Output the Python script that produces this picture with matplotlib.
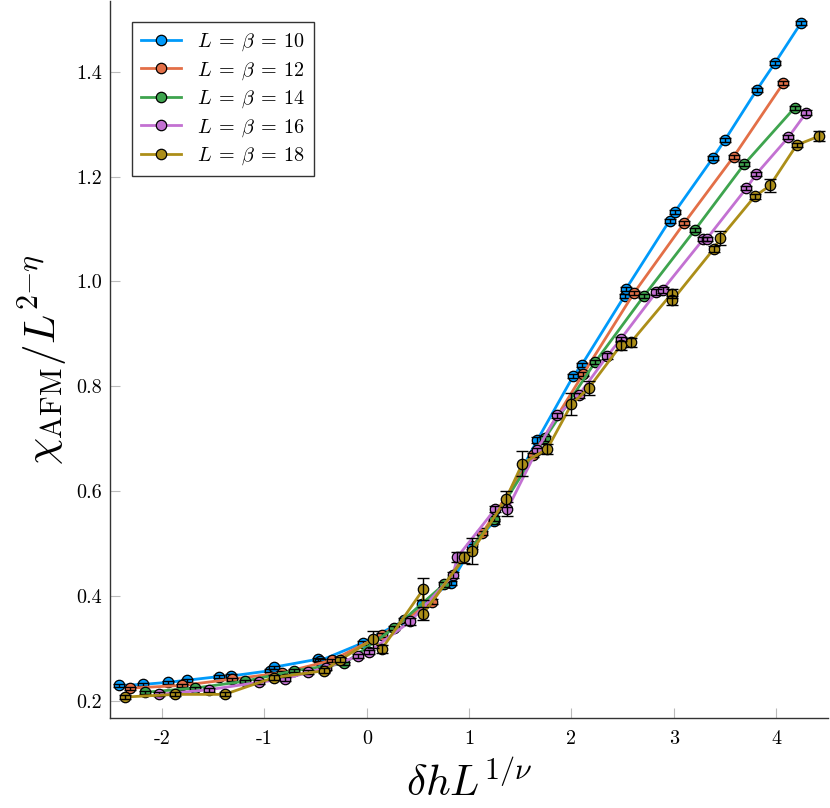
import matplotlib

matplotlib.use("Agg")
import matplotlib.pyplot as plt

plt.rcParams["font.family"] = "serif"
plt.rcParams["font.serif"] = ["cmr10"]
plt.rcParams["mathtext.fontset"] = "cm"
plt.rcParams["axes.unicode_minus"] = False
plt.rcParams["axes.formatter.use_mathtext"] = False

# L = beta = 10
x10 = [-2.42, -2.19, -1.94, -1.76, -1.44, -1.33, -0.95, -0.905, -0.48, -0.46,
       -0.04, 0.366, 0.54, 0.82, 1.03, 1.244, 1.667, 2.018, 2.10, 2.52, 2.53,
       2.958, 3.007, 3.38, 3.50, 3.81, 3.99, 4.24]
y10 = [0.230, 0.232, 0.236, 0.240, 0.247, 0.248, 0.258, 0.265, 0.280, 0.277,
       0.311, 0.354, 0.386, 0.425, 0.495, 0.543, 0.698, 0.820, 0.841, 0.973, 0.985,
       1.116, 1.132, 1.235, 1.270, 1.365, 1.417, 1.492]
e10 = [0.003, 0.003, 0.003, 0.003, 0.003, 0.003, 0.003, 0.003, 0.003, 0.003,
       0.004, 0.004, 0.006, 0.004, 0.005, 0.005, 0.005, 0.004, 0.004, 0.004, 0.004,
       0.004, 0.004, 0.004, 0.004, 0.004, 0.004, 0.004]

# L = beta = 12
x12 = [-2.31, -1.81, -1.32, -0.83, -0.34, 0.148, 0.64, 1.13, 1.624, 2.115,
       2.61, 3.10, 3.585, 4.07]
y12 = [0.225, 0.230, 0.242, 0.254, 0.278, 0.326, 0.390, 0.521, 0.669, 0.824,
       0.978, 1.111, 1.238, 1.378]
e12 = [0.003, 0.003, 0.003, 0.003, 0.003, 0.004, 0.004, 0.004, 0.004, 0.004,
       0.004, 0.004, 0.004, 0.004]

# L = beta = 14
x14 = [-2.17, -1.68, -1.195, -0.71, -0.22, 0.27, 0.756, 1.244, 1.74, 2.23,
       2.71, 3.205, 3.69, 4.18]
y14 = [0.217, 0.225, 0.238, 0.258, 0.272, 0.340, 0.423, 0.548, 0.701, 0.846,
       0.973, 1.098, 1.224, 1.331]
e14 = [0.003, 0.003, 0.003, 0.003, 0.003, 0.004, 0.005, 0.005, 0.005, 0.004,
       0.004, 0.004, 0.004, 0.004]

# L = beta = 16
x16 = [-2.03, -1.54, -1.055, -0.795, -0.57, -0.40, -0.083, 0.02, 0.424, 0.84,
       0.886, 1.254, 1.374, 1.66, 1.86, 2.07, 2.35, 2.48, 2.83, 2.89, 3.29,
       3.32, 3.71, 3.807, 4.12, 4.295]
y16 = [0.213, 0.222, 0.236, 0.243, 0.255, 0.264, 0.286, 0.294, 0.352, 0.440,
       0.475, 0.566, 0.566, 0.678, 0.745, 0.783, 0.858, 0.890, 0.980, 0.984, 1.081,
       1.081, 1.178, 1.205, 1.275, 1.322]
e16 = [0.004, 0.004, 0.004, 0.004, 0.004, 0.004, 0.004, 0.004, 0.006, 0.006,
       0.010, 0.006, 0.013, 0.005, 0.005, 0.005, 0.005, 0.005, 0.005, 0.006, 0.004,
       0.004, 0.004, 0.004, 0.004, 0.004]

# L = beta = 18
x18 = [-2.36, -1.87, -1.39, -0.91, -0.42, -0.26, 0.063, 0.144, 0.551, 0.552,
       0.95, 1.03, 1.358, 1.52, 1.764, 2.0, 2.17, 2.48, 2.58, 2.98, 2.985,
       3.39, 3.455, 3.79, 3.94, 4.20, 4.42]
y18 = [0.208, 0.213, 0.213, 0.245, 0.258, 0.279, 0.318, 0.299, 0.413, 0.367,
       0.474, 0.486, 0.585, 0.653, 0.681, 0.766, 0.797, 0.878, 0.884, 0.977, 0.964,
       1.062, 1.083, 1.162, 1.183, 1.260, 1.277]
e18 = [0.004, 0.004, 0.004, 0.005, 0.005, 0.005, 0.016, 0.008, 0.021, 0.013,
       0.010, 0.025, 0.015, 0.024, 0.010, 0.021, 0.013, 0.008, 0.008, 0.008, 0.008,
       0.005, 0.014, 0.005, 0.013, 0.004, 0.010]

sizes = [10, 12, 14, 16, 18]
colors = ["#009AFA", "#E36F47", "#3EA44E", "#C371D2", "#AC8E18"]
series = [(x10, y10, e10), (x12, y12, e12), (x14, y14, e14),
          (x16, y16, e16), (x18, y18, e18)]

fig = plt.figure(figsize=(8.3, 8.08), dpi=100)
ax = fig.add_axes([0.1325, 0.1114, 0.8655, 0.8876])

for i, (L, color, (xs, ys, es)) in enumerate(zip(sizes, colors, series)):
    ax.plot(xs, ys, color=color, lw=2, marker="o", ms=7.5, mfc=color,
            mec="black", mew=0.9, label=rf"$L\:=\:\beta\:=\:{L}$", zorder=3 + 2 * i)
    ax.errorbar(xs, ys, yerr=es, fmt="none", ecolor="black", elinewidth=1,
                capsize=4, capthick=1, zorder=4 + 2 * i)

ax.set_xlim(-2.51, 4.51)
ax.set_ylim(0.168, 1.535)
ax.set_xticks([-2, -1, 0, 1, 2, 3, 4])
ax.set_yticks([0.2, 0.4, 0.6, 0.8, 1.0, 1.2, 1.4])

for side in ["top", "right"]:
    ax.spines[side].set_visible(False)
for side in ["left", "bottom"]:
    ax.spines[side].set_color("#333333")
    ax.spines[side].set_linewidth(1)

ax.tick_params(direction="in", length=7, width=0.8, color="#bbbbbb",
               labelsize=14.5)
ax.tick_params(axis="x", pad=9)
ax.tick_params(axis="y", pad=6)

ax.set_xlabel(r"$\delta h L^{1/\nu}$", fontsize=31, labelpad=10)
ax.set_ylabel(r"$\chi_{\rm AFM}/L^{2{-}\eta}$", fontsize=31, labelpad=4)

leg = ax.legend(loc="upper left", bbox_to_anchor=(0.03, 0.97), borderaxespad=0,
                fontsize=14.5, fancybox=False, edgecolor="#333333",
                framealpha=1, handlelength=2.0, borderpad=0.45, labelspacing=0.35)
leg.get_frame().set_linewidth(1)

fig.savefig("out.png", dpi=100)
